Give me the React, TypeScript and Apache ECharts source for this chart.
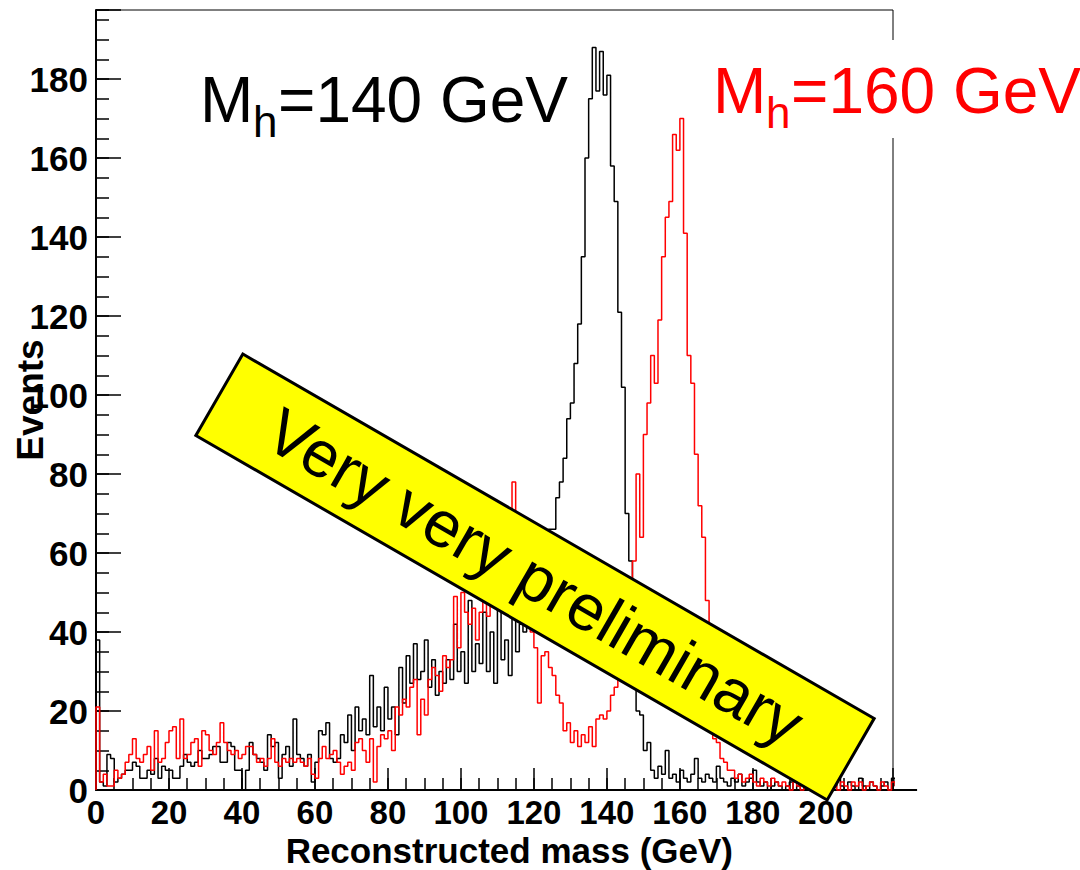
import React, { useEffect, useRef } from "react";
import * as echarts from "echarts";

// ---- data (1 GeV bins starting at 0 GeV) ----
const BIN_WIDTH = 1;
const mh140Counts = [
  38, 2, 1, 9, 8, 2, 3, 4, 5, 5,
  7, 6, 3, 3, 5, 4, 8, 3, 6, 5,
  5, 3, 3, 6, 9, 7, 6, 7, 10, 8,
  8, 9, 11, 11, 7, 7, 12, 11, 5, 5,
  0, 5, 12, 9, 8, 7, 5, 14, 11, 12,
  3, 9, 11, 6, 18, 9, 8, 6, 9, 2,
  7, 15, 14, 17, 8, 7, 8, 14, 12, 19,
  10, 21, 15, 18, 14, 29, 16, 21, 15, 26,
  18, 21, 14, 31, 22, 34, 27, 37, 28, 30,
  38, 26, 33, 24, 30, 27, 33, 28, 42, 30,
  35, 27, 48, 30, 37, 32, 45, 30, 40, 27,
  46, 33, 38, 29, 44, 35, 42, 40, 46, 44,
  50, 52, 58, 60, 66, 66, 74, 78, 84, 94,
  98, 108, 118, 135, 160, 175, 188, 177, 187, 176,
  181, 158, 149, 121, 102, 70, 58, 30, 20, 19,
  10, 12, 5, 3, 6, 4, 10, 3, 4, 2,
  5, 3, 2, 4, 8, 3, 2, 4, 3, 2,
  6, 3, 2, 1, 3, 2, 4, 1, 2, 3,
  5, 2, 1, 2, 0, 1, 2, 1, 0, 1,
  2, 0, 1, 0, 1, 2, 0, 1, 0, 1,
  2, 0, 1, 3, 1, 0, 2, 1, 0, 3,
  1, 0, 2, 1, 0, 1, 2, 0, 3, 1,
  2,
];
const mh160Counts = [
  21, 2, 4, 1, 1, 5, 3, 4, 7, 9,
  13, 8, 7, 9, 11, 5, 15, 7, 8, 12,
  15, 16, 8, 18, 8, 9, 12, 13, 6, 15,
  14, 10, 9, 12, 17, 12, 10, 9, 10, 8,
  9, 11, 11, 9, 7, 8, 6, 8, 13, 7,
  6, 8, 7, 8, 7, 8, 7, 6, 8, 4,
  3, 8, 11, 8, 9, 10, 7, 4, 6, 7,
  5, 12, 13, 10, 7, 13, 2, 11, 14, 13,
  15, 10, 21, 19, 23, 21, 26, 28, 14, 23,
  19, 28, 31, 29, 25, 34, 31, 33, 49, 36,
  50, 45, 42, 46, 38, 45, 52, 44, 55, 48,
  58, 50, 63, 55, 78, 70, 48, 45, 42, 40,
  36, 22, 34, 35, 31, 29, 24, 22, 15, 17,
  12, 15, 11, 14, 12, 16, 11, 18, 19, 18,
  20, 24, 26, 35, 42, 48, 52, 58, 80, 64,
  90, 98, 110, 103, 119, 135, 145, 149, 166, 162,
  170, 141, 110, 103, 85, 72, 64, 48, 30, 13,
  12, 8, 7, 5, 5, 3, 4, 2, 3, 4,
  2, 1, 3, 2, 1, 3, 2, 1, 2, 1,
  0, 2, 1, 0, 2, 1, 0, 1, 2, 0,
  1, 2, 1, 0, 2, 1, 0, 2, 1, 2,
  0, 1, 2, 1, 0, 2, 1, 0, 2, 1,
  1, 0, 2, 1, 1,
];
const xTickLabels = [0, 20, 40, 60, 80, 100, 120, 140, 160, 180, 200];
const yTickLabels = [0, 20, 40, 60, 80, 100, 120, 140, 160, 180];
const X_MAX = 218.4;
const Y_MAX = 197.5;
const xTitle = "Reconstructed mass (GeV)";
const yTitle = "Events";
const label140 = ["M", "h", "=140 GeV"];
const label160 = ["M", "h", "=160 GeV"];
const bannerText = "Very very preliminary";

const FONT = "Liberation Sans";

function toSteps(counts: number[]) {
  const pts: number[][] = [[0, 0]];
  counts.forEach((c, i) => pts.push([i * BIN_WIDTH, c]));
  const end = counts.length * BIN_WIDTH;
  pts.push([end, counts[counts.length - 1]]);
  pts.push([end, 0]);
  return pts;
}

export default function App() {
  const ref = useRef<HTMLDivElement>(null);
  useEffect(() => {
    if (!ref.current) return;
    const chart = echarts.init(ref.current, undefined, { renderer: "svg" });
    const gridLeft = 96;
    const gridTop = 10;
    const gridW = 797;
    const gridH = 780;
    const xScale = gridW / X_MAX;
    const xAxisEnd = gridLeft + mh160Counts.length * BIN_WIDTH * xScale;

    const labelStyle = {
      fontFamily: FONT,
      fontWeight: "bold" as const,
      color: "#000",
    };
    const txt = (
      x: number,
      y: number,
      text: string,
      size: number,
      color: string,
      extra: any = {}
    ) => ({
      type: "text",
      x,
      y,
      z: 60,
      style: {
        text,
        fontSize: size,
        fontFamily: FONT,
        fontWeight: extra.weight || "normal",
        fill: color,
        lineHeight: extra.lineHeight,
        align: extra.align || "left",
        textAlign: extra.align || "left",
        verticalAlign: "middle",
        textVerticalAlign: "middle",
      },
      rotation: extra.rotation || 0,
    });

    chart.setOption({
      animation: false,
      backgroundColor: "#fff",
      grid: {
        left: gridLeft,
        top: gridTop,
        width: gridW,
        height: gridH,
        show: true,
        borderColor: "#000",
        borderWidth: 1,
        backgroundColor: "transparent",
      },
      xAxis: [
        {
          type: "value",
          position: "bottom",
          min: 0,
          max: X_MAX,
          interval: 20,
          axisLine: { show: true, lineStyle: { color: "#000", width: 2 } },
          axisTick: { show: true, inside: true, length: 22, lineStyle: { color: "#000", width: 1.5 } },
          axisLabel: {
            ...labelStyle,
            fontSize: 33,
            lineHeight: 28,
            margin: 8,
            formatter: (v: number) => (xTickLabels.includes(v) ? String(v) : ""),
          },
          splitLine: { show: false },
        },
        {
          type: "value",
          position: "bottom",
          min: 0,
          max: X_MAX,
          interval: 5,
          axisLine: { show: false },
          axisTick: { show: true, inside: true, length: 12, lineStyle: { color: "#000", width: 1.5 } },
          axisLabel: { show: false },
          splitLine: { show: false },
        },
      ],
      yAxis: [
        {
          type: "value",
          position: "left",
          min: 0,
          max: Y_MAX,
          interval: 20,
          axisLine: { show: true, lineStyle: { color: "#000", width: 2 } },
          axisTick: { show: true, inside: true, length: 25, lineStyle: { color: "#000", width: 1.5 } },
          axisLabel: {
            ...labelStyle,
            fontSize: 35,
            margin: 8,
            formatter: (v: number) => (yTickLabels.includes(v) ? String(v) : ""),
          },
          splitLine: { show: false },
        },
        {
          type: "value",
          position: "left",
          min: 0,
          max: Y_MAX,
          interval: 5,
          axisLine: { show: false },
          axisTick: { show: true, inside: true, length: 13, lineStyle: { color: "#000", width: 1.5 } },
          axisLabel: { show: false },
          splitLine: { show: false },
        },
      ],
      series: [
        {
          type: "line",
          name: "Mh=140 GeV",
          data: toSteps(mh140Counts),
          step: "end",
          showSymbol: false,
          symbol: "none",
          clip: false,
          xAxisIndex: 0,
          yAxisIndex: 0,
          lineStyle: { color: "#000", width: 1.5 },
          z: 3,
        },
        {
          type: "line",
          name: "Mh=160 GeV",
          data: toSteps(mh160Counts),
          step: "end",
          showSymbol: false,
          symbol: "none",
          clip: false,
          xAxisIndex: 0,
          yAxisIndex: 0,
          lineStyle: { color: "#ff0000", width: 1.5 },
          z: 4,
        },
      ],
      graphic: [
        {
          type: "line",
          z: 50,
          shape: { x1: gridLeft + gridW, y1: gridTop + gridH, x2: xAxisEnd, y2: gridTop + gridH },
          style: { stroke: "#000", lineWidth: 2 },
        },
        {
          type: "rect",
          z: 55,
          shape: { x: 700, y: 40, width: 380, height: 98 },
          style: { fill: "#fff" },
        },
        txt(200, 122 - 0.3465 * 64, label140[0], 64, "#000"),
        txt(253, 137 - 0.3465 * 44, label140[1], 44, "#000"),
        txt(278, 122 - 0.3465 * 64, label140[2], 64, "#000"),
        txt(713, 113 - 0.3465 * 64, label160[0], 64, "#ff0000"),
        txt(766, 128 - 0.3465 * 44, label160[1], 44, "#ff0000"),
        txt(791, 113 - 0.3465 * 64, label160[2], 64, "#ff0000"),
        txt(733, 850.3, xTitle, 35, "#000", { weight: "bold", align: "right", lineHeight: 30 }),
        txt(30, 400, yTitle, 37, "#000", { weight: "bold", align: "center", rotation: Math.PI / 2 }),
        {
          type: "group",
          x: 535,
          y: 577,
          rotation: -Math.PI / 6,
          z: 100,
          children: [
            {
              type: "rect",
              z: 100,
              shape: { x: -364.5, y: -47, width: 729, height: 94 },
              style: { fill: "#ffff00", stroke: "#000", lineWidth: 3 },
            },
            {
              type: "text",
              z: 101,
              x: 0,
              y: 0,
              style: {
                text: bannerText,
                fontSize: 65,
                fontFamily: FONT,
                fill: "#000",
                align: "center",
                textAlign: "center",
                verticalAlign: "middle",
                textVerticalAlign: "middle",
              },
            },
          ],
        },
      ],
    });
    return () => chart.dispose();
  }, []);
  return (
    <div
      ref={ref}
      style={{ position: "fixed", left: 0, top: 0, width: 1080, height: 870, background: "#fff" }}
    />
  );
}
